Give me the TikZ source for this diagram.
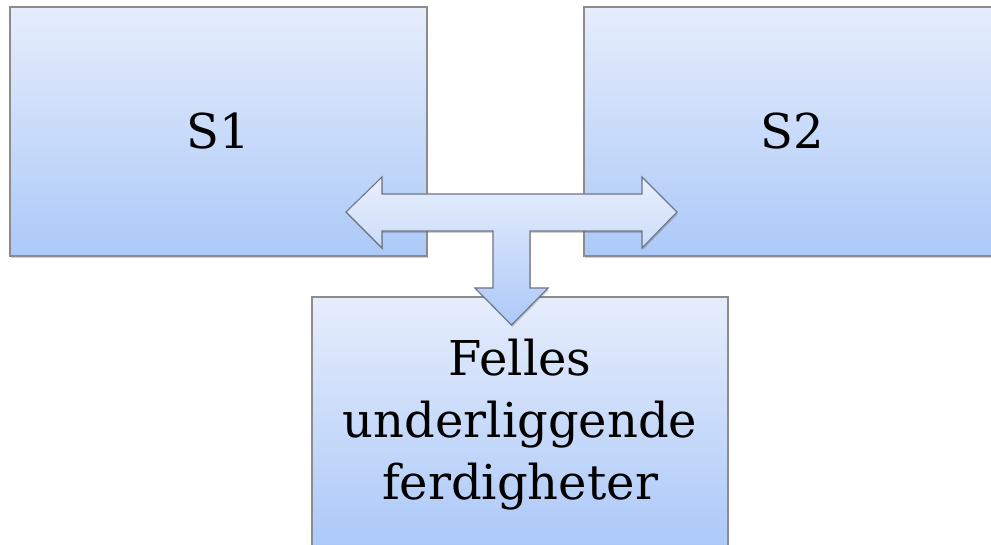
\documentclass[tikz,border=0pt]{standalone}
\usepackage{fontspec}
\setmainfont{DejaVu Serif}
\usetikzlibrary{shadows}
\definecolor{boxtop}{RGB}{230,237,252}
\definecolor{boxbot}{RGB}{172,201,248}
\definecolor{boxline}{RGB}{140,140,140}
\definecolor{arrline}{RGB}{110,118,130}
\tikzset{
  softshadow/.style={drop shadow={shadow xshift=0.8pt,shadow yshift=-2pt,opacity=0.28,fill=black!70}},
  panel/.style={draw=boxline,line width=1.1pt,top color=boxtop,bottom color=boxbot,
    softshadow,inner sep=0pt,align=center,
    font=\fontsize{48}{62}\selectfont},
  tarrow/.style={draw=arrline,line width=1.1pt,line join=miter,top color=boxtop!90!white,bottom color=boxbot,softshadow}
}
\begin{document}
\begin{tikzpicture}[x=1pt,y=-1pt]
\useasboundingbox (0,0) rectangle (991,545);
\clip (0,0) rectangle (991,545);
\fill[white] (0,0) rectangle (991,545);
% the three panels
\node[panel,minimum width=417pt,minimum height=249pt] (s1) at (218.5,131.5) {S1};
\node[panel,minimum width=417pt,minimum height=249pt] (s2) at (792.5,131.5) {S2};
\node[panel,minimum width=416pt,minimum height=249pt] (felles) at (520,421.5) {};
\node[align=center,font=\fontsize{48}{62}\selectfont] (fellestext) at ([yshift=-3pt]felles.center)
  {Felles\\underliggende\\ferdigheter};
% T-shaped arrow linking S1, S2 and the shared skills
\coordinate (lt) at (346,212);
\coordinate (rt) at (677,212);
\coordinate (dt) at (511.5,325);
\draw[tarrow]
  (lt) -- (382,177) -- (382,194) -- (642,194) -- (642,177) -- (rt)
  -- (642,248) -- (642,231) -- (530,231) -- (530,288) -- (548,288) -- (dt)
  -- (475,288) -- (493,288) -- (493,231) -- (382,231) -- (382,248) -- cycle;
\end{tikzpicture}
\end{document}
